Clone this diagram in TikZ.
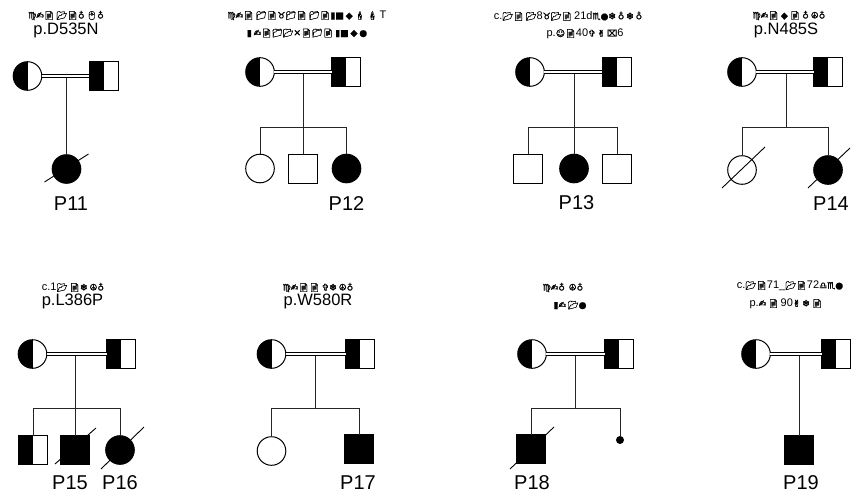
\documentclass[tikz,border=0pt]{standalone}
\usepackage{fontspec}
\setmainfont{Liberation Sans}
\newfontfamily\emofont[FakeBold=1.2]{Noto Emoji}
\newfontfamily\symfont[FakeBold=1.2]{DejaVu Sans}
% small pictograph runs inside the variant lines
\newcommand\ico[1]{{\emofont\fontsize{8.5}{9}\selectfont #1}}
\newcommand\sym[1]{{\symfont\fontsize{9}{9}\selectfont #1}}

\tikzset{
  ped/.style={draw, line width=1pt, inner sep=0pt, outer sep=0pt},
  fem/.style={ped, circle, minimum size=28.6pt},
  mal/.style={ped, rectangle, minimum size=29pt},
  aff/.style={fill=black},
  half/.style={path picture={\fill[black] (path picture bounding box.south west) rectangle (path picture bounding box.north);}},
  link/.style={line width=0.9pt, draw=black!85},
  mate/.style={draw=black, double=white, double distance=2.2pt, line width=0.8pt},
  dead/.style={line width=0.9pt},
  dot/.style={circle, fill=black, minimum size=8pt, inner sep=0pt},
  pid/.style={font=\fontsize{20}{24}\selectfont, anchor=base, inner sep=0pt},
  hgvs/.style={font=\fontsize{16.5}{19}\selectfont, anchor=base, inner sep=0pt},
  code/.style={font=\fontsize{11}{13}\selectfont, anchor=base, inner sep=0pt},
}

\begin{document}
\begin{tikzpicture}[x=1pt, y=-1pt]
\fill[white] (0,0) rectangle (851,495);
\useasboundingbox (0,0) rectangle (851,495);

% ---------------- family P11 ----------------
\node[fem, half] (f1m) at (27.5,76) {};
\node[mal, half] (f1f) at (103.5,76) {};
\coordinate (f1x) at (66.5,76);
\node[fem, aff] (f1c) at (66.5,169) {};
\draw[link] (f1x) -- (f1c.north);
\draw[mate] (f1m.east) -- (f1f.west);
\draw[dead] ([shift={(-22,13)}]f1c.center) -- ([shift={(22,-15)}]f1c.center);
\node[code] (f1v) at (66,18.5) {\sym{♍✍}\ico{📄}\,\ico{📂📄}\sym{♁}\,\ico{🖱}\sym{♁}};
\node[hgvs] (f1p) at (66,34.5) {p.D535N};
\node[pid] (f1l) at (71,210.7) {P11};

% ---------------- family P12 ----------------
\node[fem, half] (f2m) at (260,72) {};
\node[mal, half] (f2f) at (346,72) {};
\coordinate (f2x) at (303,72);
\coordinate (f2s) at (303,127);
\node[fem] (f2a) at (260,168.5) {};
\node[mal] (f2b) at (303,168.5) {};
\node[fem, aff] (f2c) at (346.5,168.5) {};
\draw[link] (f2x) -- (f2s);
\draw[link] (f2a.north) -- (f2a.north |- f2s) -- (f2c.north |- f2s) -- (f2c.north);
\draw[link] (f2b.north) -- (f2b.north |- f2s);
\draw[mate] (f2m.east) -- (f2f.west);
\node[code] (f2v) at (307,18.5) {\sym{♍✍}\ico{📄}\,\ico{📁📄}\sym{♉}\ico{📁📄}\,\ico{📁📄}\sym{▮■}\,\sym{◆}\,\ico{🕯}\,\ico{🕯}\,T};
\node[code] (f2w) at (307,36) {\sym{▮}\,\sym{✍}\ico{📄📁📂}\sym{✕}\ico{📄📁📄}\,\sym{▮■}\,\sym{◆}\,\sym{●}};
\node[pid] (f2l) at (346.5,210.7) {P12};

% ---------------- family P13 ----------------
\node[fem, half] (f3m) at (530,72) {};
\node[mal, half] (f3f) at (616.5,72) {};
\coordinate (f3x) at (574,72);
\coordinate (f3s) at (574,127);
\node[mal] (f3a) at (528,168.5) {};
\node[fem, aff] (f3b) at (574,168.5) {};
\node[mal] (f3c) at (617,168.5) {};
\draw[link] (f3x) -- (f3s);
\draw[link] (f3a.north) -- (f3a.north |- f3s) -- (f3c.north |- f3s) -- (f3c.north);
\draw[link] (f3b.north) -- (f3b.north |- f3s);
\draw[mate] (f3m.east) -- (f3f.west);
\node[code] (f3v) at (568,19.3) {c.\ico{📂📄}\,\ico{📂}8\sym{♉}\ico{📂📄}\,21d\sym{♏●❄}\,\sym{♁}\,\sym{❄}\,\sym{♁}};
\node[code] (f3w) at (585,36.5) {p.\sym{☺}\ico{📄}40\sym{✞}\,\sym{✌}\,\sym{⌧}6};
\node[pid] (f3l) at (576.5,209.5) {P13};

% ---------------- family P14 ----------------
\node[fem, half] (f4m) at (742,72) {};
\node[mal, half] (f4f) at (828,72) {};
\coordinate (f4x) at (786,72);
\coordinate (f4s) at (786,127);
\node[fem] (f4a) at (742,170) {};
\node[fem, aff] (f4b) at (828,170) {};
\draw[link] (f4x) -- (f4s);
\draw[link] (f4a.north) -- (f4a.north |- f4s) -- (f4b.north |- f4s) -- (f4b.north);
\draw[mate] (f4m.east) -- (f4f.west);
\draw[dead] ([shift={(-20,18)}]f4a.center) -- ([shift={(23,-23)}]f4a.center);
\draw[dead] ([shift={(-20,18)}]f4b.center) -- ([shift={(22,-22)}]f4b.center);
\node[code] (f4v) at (789,18.5) {\sym{♍✍}\ico{📄}\,\sym{◆}\,\ico{📄}\,\sym{♁}\,\sym{☮}\sym{♁}};
\node[hgvs] (f4p) at (786,35) {p.N485S};
\node[pid] (f4l) at (831,210) {P14};

% ---------------- family P15/P16 ----------------
\node[fem, half] (f5m) at (32.5,354) {};
\node[mal, half] (f5f) at (121,354) {};
\coordinate (f5x) at (75.5,354);
\coordinate (f5s) at (75.5,408);
\node[mal, half] (f5a) at (33,450) {};
\node[mal, aff] (f5b) at (75,450) {};
\node[fem, aff] (f5c) at (120,450) {};
\draw[link] (f5x) -- (f5s);
\draw[link] (f5a.north) -- (f5a.north |- f5s) -- (f5c.north |- f5s) -- (f5c.north);
\draw[link] (f5b.north) -- (f5b.north |- f5s);
\draw[mate] (f5m.east) -- (f5f.west);
\draw[dead] ([shift={(-20,14)}]f5b.center) -- ([shift={(21,-22)}]f5b.center);
\draw[dead] ([shift={(-19,19)}]f5c.center) -- ([shift={(24,-23)}]f5c.center);
\node[code] (f5v) at (73,290.5) {c.1\ico{📂}\,\ico{📄}\sym{❄}\,\sym{☮}\sym{♁}};
\node[hgvs] (f5p) at (72.5,305.5) {p.L386P};
\node[pid] (f5l) at (70,489) {P15};
\node[pid] (f5k) at (120,489) {P16};

% ---------------- family P17 ----------------
\node[fem, half] (f6m) at (271.5,354) {};
\node[mal, half] (f6f) at (360,354) {};
\coordinate (f6x) at (315,354);
\coordinate (f6s) at (315,408);
\node[fem] (f6a) at (271.5,451) {};
\node[mal, aff] (f6b) at (359,449) {};
\draw[link] (f6x) -- (f6s);
\draw[link] (f6a.north) -- (f6a.north |- f6s) -- (f6b.north |- f6s) -- (f6b.north);
\draw[mate] (f6m.east) -- (f6f.west);
\node[code] (f6v) at (318,290.5) {\sym{♍✍}\ico{📄📄}\,\sym{✞❄}\,\sym{☮}\sym{♁}};
\node[hgvs] (f6p) at (318,305.5) {p.W580R};
\node[pid] (f6l) at (358,489) {P17};

% ---------------- family P18 ----------------
\node[fem, half] (f7m) at (532,354) {};
\node[mal, half] (f7f) at (619,354) {};
\coordinate (f7x) at (575.5,354);
\coordinate (f7s) at (575.5,408);
\node[mal, aff] (f7a) at (531,449) {};
\node[dot] (f7b) at (620,440) {};
\draw[link] (f7x) -- (f7s);
\draw[link] (f7a.north) -- (f7a.north |- f7s) -- (f7b.north |- f7s) -- (f7b.north);
\draw[mate] (f7m.east) -- (f7f.west);
\draw[dead] ([shift={(-21,20)}]f7a.center) -- ([shift={(23,-22)}]f7a.center);
\node[code] (f7v) at (563,290.5) {\sym{♍✍}\sym{♁}\,\,\sym{☮}\sym{♁}};
\node[code] (f7w) at (570,308) {\sym{▮}\sym{✍}\,\ico{📂}\sym{●}};
\node[pid] (f7l) at (532,489) {P18};

% ---------------- family P19 ----------------
\node[fem, half] (f8m) at (756,354) {};
\node[mal, half] (f8f) at (836,354) {};
\coordinate (f8x) at (799,354);
\node[mal, aff] (f8a) at (799,450) {};
\draw[link] (f8x) -- (f8a.north);
\draw[mate] (f8m.east) -- (f8f.west);
\node[code] (f8v) at (790,288.5) {c.\ico{📂📄}71\_\ico{📂📄}72\sym{♎♏●}};
\node[code] (f8w) at (786,306.5) {p.\sym{✍}\,\ico{📄}\,90\sym{✌}\,\sym{❄}\,\ico{📄}};
\node[pid] (f8l) at (801,489) {P19};
\end{tikzpicture}
\end{document}
